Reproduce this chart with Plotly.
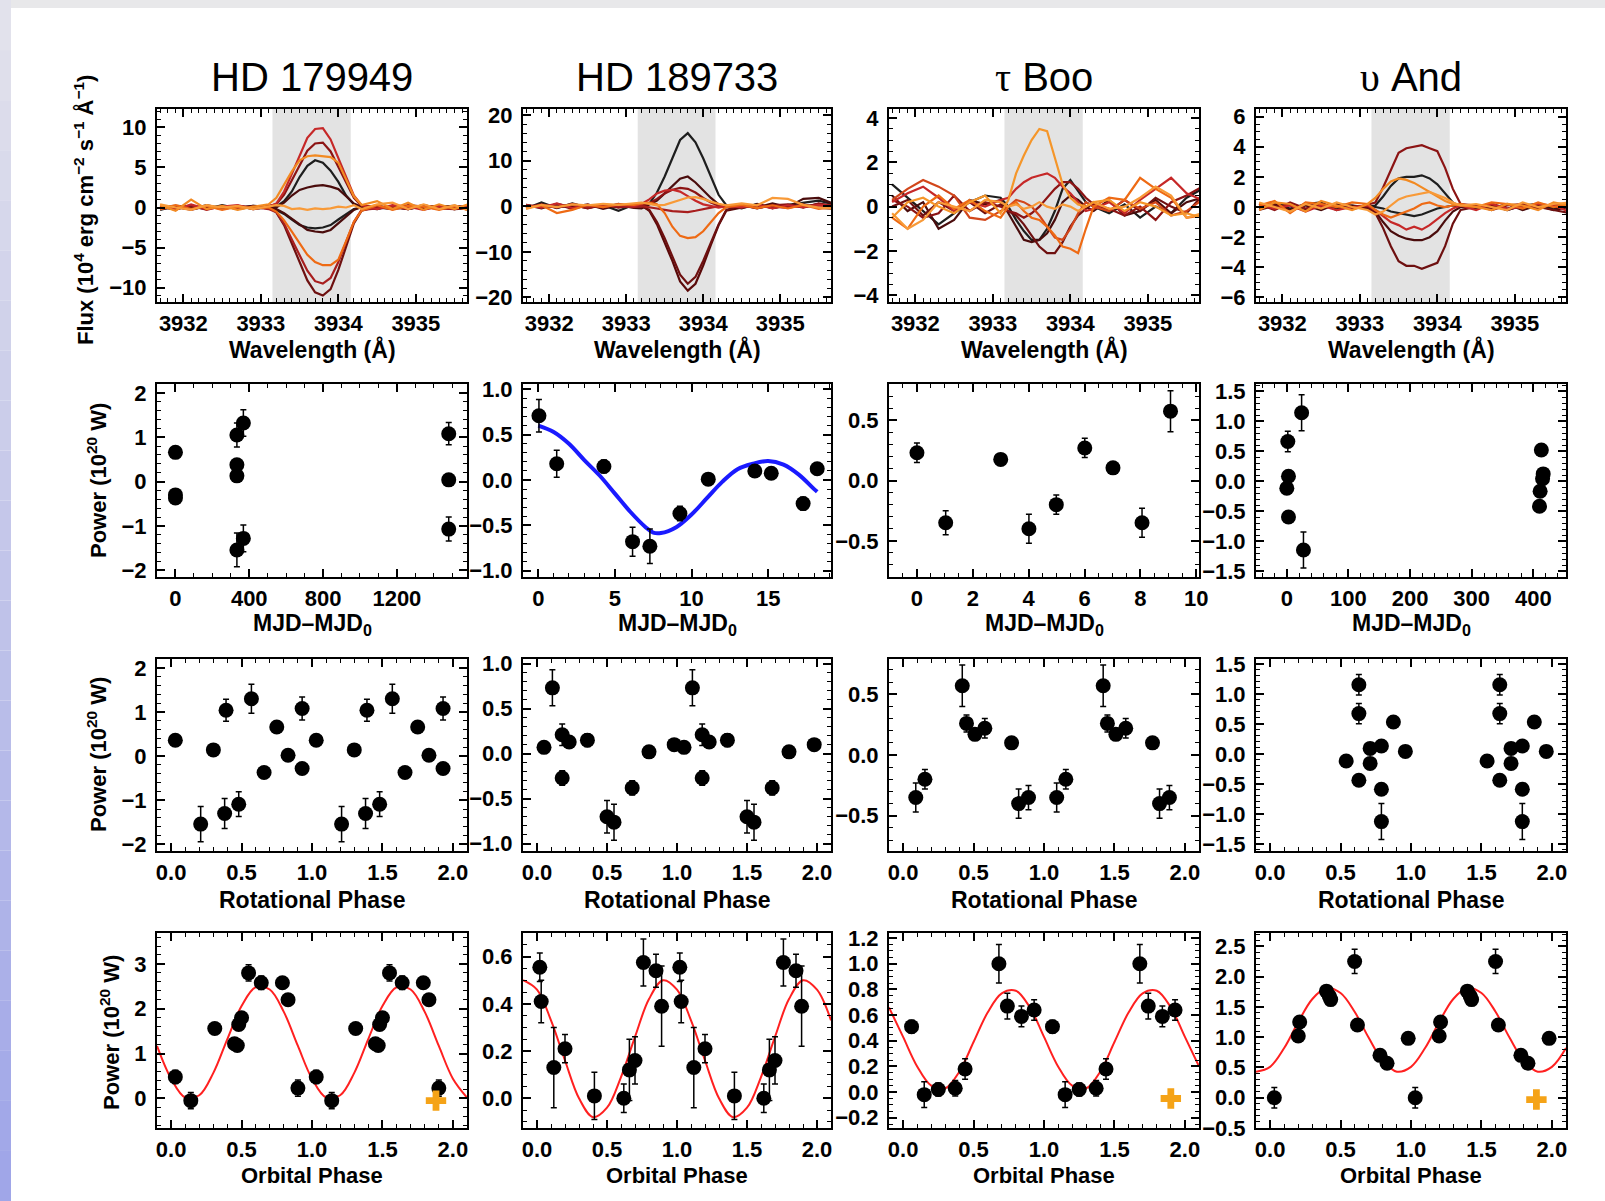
import plotly.graph_objects as go
from plotly.subplots import make_subplots

# ---------------- DATA ----------------
titles = ["HD 179949", "HD 189733",
          "<span style=\"font-family:'Liberation Serif'\">τ</span> Boo",
          "<span style=\"font-family:'Liberation Serif'\">υ</span> And"]

# wavelength sampling (Angstrom) for the residual Ca II K spectra
wl = [3931.7, 3931.9, 3932.1, 3932.3, 3932.5, 3932.7, 3932.9, 3933.1,
      3933.2, 3933.3, 3933.4, 3933.5, 3933.6, 3933.7, 3933.8, 3933.9,
      3934.0, 3934.1, 3934.2, 3934.3,
      3934.5, 3934.7, 3934.9, 3935.1, 3935.3, 3935.5, 3935.7]
band = [3933.15, 3934.16]

# HD 179949 residual flux profiles
hd179_black_up = [-0.3,0.2,0.1,-0.2,0.3,-0.1,0.2,0.0, 0.1,0.8,2.0,3.8,5.2,5.9,5.6,4.6,3.2,1.5,0.4,0.0, -0.2,0.2,-0.1,0.3,-0.2,0.1,-0.3]
hd179_black_dn = [0.0,-0.2,0.2,-0.1,0.2,-0.2,0.1,-0.1, -0.3,-0.8,-1.5,-2.2,-2.5,-2.6,-2.5,-2.2,-1.5,-0.8,-0.2,0.0, -0.1,0.1,-0.2,0.2,0.0,-0.2,0.1]
hd179_brown_up = [0.1,0.2,-0.2,0.3,-0.1,0.0,0.2,0.1, 0.0,0.6,1.5,2.2,2.5,2.7,2.8,2.6,2.3,1.4,0.5,0.1, 0.2,-0.1,0.2,-0.2,0.1,0.2,-0.1]
hd179_brown_dn = [0.2,0.0,-0.2,0.1,-0.1,0.2,-0.2,0.0, -0.2,-0.7,-1.4,-2.2,-2.8,-3.0,-3.1,-2.8,-2.0,-1.1,-0.3,0.1, 0.0,-0.2,0.1,0.0,0.2,-0.1,0.2]
hd179_dred_dn = [-0.1,0.1,0.0,0.2,-0.2,0.2,-0.1,0.1, -0.6,-2.2,-4.5,-6.9,-9.1,-10.6,-11.0,-10.2,-7.8,-4.9,-2.0,-0.4, 0.1,0.0,-0.2,0.2,0.1,-0.2,-0.1]
hd179_dred_up = [-0.2,0.1,-0.3,0.2,-0.1,0.2,0.0,0.2, 0.4,1.6,3.4,5.3,7.1,8.0,8.1,7.0,5.1,3.1,1.2,0.2, 0.1,-0.2,0.3,0.1,-0.2,0.2,0.0]
hd179_red_dn = [0.1,-0.2,0.3,-0.3,0.2,-0.1,0.1,-0.2, -0.6,-2.0,-4.0,-6.0,-7.9,-9.2,-9.5,-8.8,-6.8,-4.3,-1.8,-0.3, -0.1,0.2,-0.2,0.3,-0.1,-0.2,0.2]
hd179_red_up = [0.2,-0.3,0.4,-0.2,0.1,0.3,-0.2,0.1, 0.5,2.0,4.2,6.5,8.7,9.8,9.9,8.5,6.2,3.8,1.5,0.3, -0.2,0.3,0.1,-0.3,0.2,-0.1,0.3]
hd179_orng_dn = [-0.2,0.3,-0.2,0.2,-0.3,0.1,-0.1,0.0, -0.5,-1.6,-3.0,-4.5,-5.9,-6.8,-7.2,-7.2,-6.5,-4.2,-1.8,-0.4, 0.3,-0.3,0.2,0.1,-0.3,0.2,-0.4]
hd179_orng_up = [0.3,-0.4,1.0,-0.2,0.2,-0.3,0.1,0.4, 1.2,2.8,4.5,5.9,6.4,6.5,6.4,6.3,5.6,3.5,1.4,0.3, 0.8,-0.2,0.6,-0.3,0.4,-0.2,0.5]
hd179_lorng = [0.4,0.0,-0.3,0.3,0.0,0.2,-0.2,0.1, 0.3,0.2,-0.2,-0.1,-0.3,-0.1,-0.2,-0.1,0.1,0.0,0.3,-0.2, 0.4,0.6,-0.2,0.4,-0.2,0.3,-0.4]

# HD 189733 residual flux profiles
hd189_black_up = [-0.5,0.8,-0.4,0.6,-0.3,0.2,-1.0,0.3, 0.0,0.5,3.0,6.5,10.5,14.5,16.0,14.0,10.5,6.5,2.5,0.2, -0.5,0.5,-0.4,0.3,0.8,1.2,0.4]
hd189_brown_up = [0.3,-0.5,0.5,-0.2,0.4,-0.6,0.2,-0.4, -0.5,0.3,1.2,2.8,4.5,6.0,6.5,5.2,3.5,1.8,0.4,-0.2, 0.3,-0.3,0.6,-0.2,1.6,1.8,0.5]
hd189_dred_dn2 = [-0.4,0.2,-0.3,0.3,-0.4,0.2,-0.2,0.4, 0.2,-1.0,-4.0,-7.8,-12.0,-16.5,-18.5,-17.0,-13.0,-8.5,-4.2,-1.0, -0.3,0.4,-0.4,0.2,-0.2,0.5,0.2]
hd189_dred_dn = [0.3,-0.2,0.4,-0.6,0.2,-0.3,0.5,-0.2, 0.0,-0.8,-3.5,-7.0,-11.0,-15.0,-17.0,-15.5,-12.0,-8.0,-4.0,-0.8, 0.2,-0.5,0.3,-0.2,0.4,-0.3,-0.6]
hd189_maroon_up = [-0.3,0.4,-0.2,0.3,-0.5,0.4,-0.3,0.2, 0.1,0.6,1.6,2.8,3.6,4.0,3.8,3.0,1.8,0.8,0.1,-0.2, 0.2,-0.4,0.2,0.4,-0.3,0.6,-0.2]
hd189_red_dn = [-0.2,0.3,-0.3,0.5,-0.2,0.3,0.0,-0.2, 0.0,-0.2,-0.5,-0.8,-1.1,-1.2,-1.3,-1.0,-0.6,-0.3,0.0,0.2, -0.3,0.2,-0.1,-0.4,0.3,-0.3,0.0]
hd189_red_up = [0.2,-0.3,0.6,-0.4,0.3,-0.2,0.4,0.0, 0.5,1.5,2.8,3.4,3.6,3.2,2.2,1.2,0.4,0.0,-0.3,0.0, -0.2,0.3,-0.5,0.2,-0.2,0.3,0.1]
hd189_orng_dn = [-0.3,0.2,-1.5,-0.8,0.3,-0.2,0.4,0.3, 0.6,0.8,0.4,-1.5,-4.5,-6.5,-7.0,-6.8,-5.5,-3.5,-1.5,-0.2, 0.3,-0.4,0.2,-0.5,0.3,-0.6,-0.2]
hd189_lorng = [-0.6,0.3,-0.2,0.4,0.2,0.5,0.3,0.6, 0.8,0.5,0.2,0.3,0.8,1.4,1.9,2.0,1.6,1.0,0.5,0.2, 0.6,0.2,1.8,1.6,0.3,-0.3,-0.5]

# tau Boo residual flux profiles
tau_black = [1.0,0.4,-0.2,-0.8,-0.3,0.2,0.5,0.4, 0.0,-0.6,-1.1,-1.5,-1.5,-1.0,-0.2,0.8,1.2,0.7,0.2,0.0, -0.3,0.1,-0.5,0.0,-0.3,0.4,0.8]
tau_brown = [0.5,-0.2,0.2,-1.0,-0.6,0.3,0.1,0.3, -0.3,-0.9,-1.5,-1.6,-1.5,-1.2,-0.6,0.2,0.5,0.3,0.0,-0.2, 0.3,-0.4,-0.2,0.3,-0.3,0.2,0.4]
tau_dred = [0.0,0.3,-0.4,0.2,-0.2,0.2,-0.3,0.1, -0.2,-0.4,-0.8,-1.3,-1.8,-2.1,-2.1,-1.6,-0.9,-0.4,-0.1,0.2, -0.2,0.3,-0.2,0.4,0.0,-0.3,0.5]
tau_maroon = [0.3,0.0,-0.5,-0.3,0.5,-0.2,0.2,0.0, -0.2,-0.3,-0.5,-0.3,0.0,0.4,0.8,1.1,1.1,0.8,0.4,0.1, -0.1,-0.4,0.0,-0.6,0.2,0.5,0.9]
tau_red = [0.2,0.6,0.9,0.4,-0.2,0.2,0.0,0.3, 0.4,0.8,1.1,1.3,1.4,1.5,1.3,0.9,0.6,0.2,-0.2,-0.1, 0.2,-0.3,0.3,0.8,1.3,0.6,0.3]
tau_redorng = [0.3,0.8,1.2,0.9,0.5,-0.5,-0.6,-0.2, 0.0,0.3,0.2,0.0,-0.4,-0.9,-1.4,-1.5,-1.0,-0.3,0.2,0.0, -0.2,0.3,-0.1,0.2,-0.4,-0.2,0.3]
tau_orng = [-0.5,-1.0,0.0,0.5,-0.1,0.3,-0.2,-0.5, 0.0,0.2,-0.2,-0.5,-0.6,-0.9,-1.3,-1.8,-1.9,-2.1,-1.0,0.0, 0.4,0.3,1.3,0.8,0.4,-0.5,-0.4]
tau_lorng2 = [-0.3,-1.0,-0.6,0.2,0.0,-0.2,0.3,0.2, 0.0,0.1,-0.1,0.0,0.2,0.0,-0.1,0.1,0.0,-0.2,0.0,0.2, -0.1,0.0,0.4,0.9,0.5,-0.5,-0.3]
tau_lorng = [-0.5,0.2,0.4,0.0,-0.3,0.2,0.5,-0.3, 0.3,1.5,2.3,3.0,3.5,3.4,2.2,1.0,0.4,0.1,0.0,0.2, 0.3,-0.2,0.2,0.0,-0.4,-0.3,-0.5]

# upsilon And residual flux profiles
ups_black_dn = [0.0,0.2,0.1,-0.2,0.2,-0.1,0.0,0.1, 0.0,-0.1,-0.3,-0.4,-0.5,-0.6,-0.5,-0.3,-0.1,0.0,0.1,0.0, 0.0,0.2,-0.1,0.1,-0.1,0.2,0.0]
ups_black_up = [0.1,0.2,-0.1,0.2,0.3,-0.2,0.1,0.0, 0.1,0.7,1.4,1.9,2.0,2.0,2.1,1.9,1.5,0.9,0.3,0.0, -0.1,0.2,-0.2,0.1,0.2,-0.1,0.1]
ups_brown_dn = [-0.1,0.2,-0.2,0.1,-0.2,0.2,0.1,-0.1, -0.3,-1.0,-1.6,-1.9,-2.1,-2.2,-2.2,-2.0,-1.6,-0.9,-0.3,0.0, 0.1,-0.1,0.2,-0.2,0.1,-0.2,0.0]
ups_dred_dn = [-0.2,0.1,-0.3,0.2,0.0,0.1,-0.1,0.0, -0.4,-1.4,-2.6,-3.6,-3.9,-3.9,-4.1,-3.9,-3.7,-2.6,-1.1,-0.2, 0.0,0.1,-0.2,0.1,0.0,-0.2,-0.4]
ups_dred_up = [0.2,-0.2,0.3,-0.1,0.2,0.0,-0.1,0.2, 0.3,1.3,2.5,3.6,3.9,4.0,4.1,3.9,3.7,2.6,1.2,0.2, 0.1,-0.2,0.1,0.2,-0.1,0.2,0.0]
ups_red_dn = [0.2,-0.1,0.1,-0.3,0.1,-0.2,0.0,0.1, -0.2,-0.6,-1.0,-1.2,-1.5,-1.3,-1.5,-1.2,-0.8,-0.4,-0.1,0.1, -0.2,0.2,-0.1,0.0,0.2,0.1,-0.3]
ups_orng_dn = [0.1,0.4,-0.4,0.3,0.2,0.0,0.3,0.2, -0.2,-0.5,-0.7,-0.5,-0.3,-0.1,0.2,0.3,0.1,0.0,0.1,0.2, 0.0,0.3,0.2,-0.1,0.3,0.0,0.2]
ups_orng_up = [-0.2,0.3,0.2,-0.3,0.4,0.1,-0.2,0.2, 0.6,1.2,1.7,1.9,1.8,1.6,1.3,1.0,0.7,0.4,0.2,0.1, 0.0,-0.2,0.2,0.1,-0.2,0.3,0.1]
ups_lorng = [0.3,0.0,-0.3,0.2,-0.1,0.3,0.0,-0.2, -0.5,-0.3,0.1,0.5,0.7,0.8,0.9,1.0,0.8,0.6,0.3,0.1, 0.2,0.0,-0.2,0.3,0.0,0.2,0.3]

# Power vs MJD - MJD0 (10^20 W)
mjd_179 = [0, 0, 0, 333, 368, 333, 333, 368, 333, 1481, 1481, 1481]
pw_179 = [0.66, -0.30, -0.37, 1.05, 1.32, 0.38, 0.13, -1.28, -1.54, 1.08, 0.04, -1.07]
er_179 = [0.08, 0.08, 0.08, 0.27, 0.30, 0.10, 0.10, 0.30, 0.38, 0.25, 0.08, 0.27]
mjd_189 = [0.04, 1.2, 4.28, 6.15, 7.28, 9.24, 11.09, 14.13, 15.2, 17.28, 18.2]
pw_189 = [0.71, 0.18, 0.15, -0.68, -0.73, -0.37, 0.01, 0.10, 0.075, -0.26, 0.125]
er_189 = [0.18, 0.15, 0.07, 0.16, 0.19, 0.08, 0.05, 0.05, 0.05, 0.07, 0.05]
mjd_tau = [0, 1.03, 3.0, 4.01, 4.99, 6.01, 7.02, 8.06, 9.08]
pw_tau = [0.23, -0.35, 0.175, -0.40, -0.20, 0.27, 0.105, -0.35, 0.575]
er_tau = [0.08, 0.10, 0.04, 0.12, 0.08, 0.08, 0.04, 0.12, 0.17]
mjd_ups = [1.6, 2.7, 0, 2.7, 24, 27, 413, 416, 415, 411, 410]
pw_ups = [0.66, 0.08, -0.12, -0.60, 1.14, -1.15, 0.52, 0.12, 0.04, -0.17, -0.42]
er_ups = [0.17, 0.05, 0.05, 0.05, 0.30, 0.30, 0.05, 0.05, 0.05, 0.05, 0.05]

# blue sinusoid fit for HD 189733
fit189_t = [0, 1, 2, 3, 4, 5, 6, 7, 7.5, 8, 9, 10, 11, 12, 13, 14, 15, 16, 17, 18, 18.2]
fit189_p = [0.60, 0.53, 0.40, 0.22, 0.05, -0.15, -0.35, -0.52, -0.58, -0.585, -0.52, -0.38, -0.20, -0.02, 0.12, 0.18, 0.21, 0.17, 0.06, -0.10, -0.13]

# Power vs rotational phase (one cycle; plotted twice)
rph_179 = [0.03, 0.21, 0.30, 0.39, 0.38, 0.48, 0.57, 0.66, 0.75, 0.83, 0.93, 0.93]
rpw_179 = [0.36, -1.54, 0.14, 1.04, -1.30, -1.09, 1.30, -0.37, 0.66, 0.02, 1.08, -0.28]
rer_179 = [0.08, 0.40, 0.08, 0.25, 0.34, 0.28, 0.33, 0.08, 0.08, 0.08, 0.26, 0.08]
rph_189 = [0.05, 0.11, 0.18, 0.18, 0.23, 0.36, 0.50, 0.55, 0.68, 0.80, 0.98]
rpw_189 = [0.07, 0.73, -0.27, 0.21, 0.13, 0.15, -0.70, -0.76, -0.38, 0.02, 0.10]
rer_189 = [0.05, 0.20, 0.08, 0.12, 0.05, 0.07, 0.18, 0.20, 0.08, 0.05, 0.05]
rph_tau = [0.09, 0.155, 0.42, 0.45, 0.51, 0.58, 0.77, 0.82, 0.89]
rpw_tau = [-0.35, -0.20, 0.57, 0.26, 0.17, 0.22, 0.10, -0.40, -0.35]
rer_tau = [0.12, 0.08, 0.17, 0.07, 0.04, 0.08, 0.04, 0.12, 0.10]
rph_ups = [0.54, 0.63, 0.63, 0.63, 0.71, 0.71, 0.79, 0.79, 0.79, 0.875, 0.96]
rpw_ups = [-0.12, 1.15, 0.67, -0.44, 0.09, -0.16, 0.13, -0.59, -1.13, 0.53, 0.04]
rer_ups = [0.05, 0.17, 0.17, 0.05, 0.05, 0.05, 0.05, 0.05, 0.30, 0.05, 0.05]

# Power vs orbital phase (one cycle; plotted twice)
oph_179 = [0.03, 0.14, 0.31, 0.45, 0.47, 0.48, 0.50, 0.55, 0.64, 0.79, 0.83, 0.90]
opw_179 = [0.48, -0.05, 1.56, 1.22, 1.18, 1.65, 1.80, 2.80, 2.58, 2.58, 2.20, 0.23]
oer_179 = [0.15, 0.18, 0.08, 0.10, 0.10, 0.12, 0.12, 0.18, 0.15, 0.12, 0.12, 0.18]
oph_189 = [0.02, 0.03, 0.12, 0.20, 0.41, 0.62, 0.66, 0.70, 0.76, 0.85, 0.89]
opw_189 = [0.555, 0.41, 0.13, 0.21, 0.01, 0.0, 0.12, 0.16, 0.575, 0.54, 0.39]
oer_189 = [0.06, 0.09, 0.17, 0.06, 0.10, 0.06, 0.13, 0.10, 0.10, 0.07, 0.17]
oph_tau = [0.06, 0.15, 0.25, 0.37, 0.44, 0.68, 0.74, 0.84, 0.93]
opw_tau = [0.51, -0.02, 0.02, 0.03, 0.18, 1.0, 0.67, 0.59, 0.64]
oer_tau = [0.05, 0.10, 0.05, 0.06, 0.08, 0.15, 0.10, 0.08, 0.08]
oph_ups = [0.03, 0.20, 0.21, 0.40, 0.42, 0.43, 0.60, 0.62, 0.78, 0.83, 0.98]
opw_ups = [0.0, 1.02, 1.25, 1.76, 1.68, 1.62, 2.25, 1.20, 0.70, 0.57, 0.98]
oer_ups = [0.17, 0.08, 0.08, 0.08, 0.08, 0.08, 0.20, 0.08, 0.08, 0.08, 0.08]

# red sinusoid fits vs orbital phase
fit_ph = [-0.1, 0.0, 0.1, 0.2, 0.3, 0.4, 0.5, 0.6, 0.7, 0.8, 0.9, 1.0,
          1.1, 1.2, 1.3, 1.4, 1.5, 1.6, 1.7, 1.8, 1.9, 2.0, 2.1]
fit_179 = [1.17, 0.44, 0.02, 0.07, 0.57, 1.33, 2.06, 2.48, 2.43, 1.93, 1.17, 0.44,
           0.02, 0.07, 0.57, 1.33, 2.06, 2.48, 2.43, 1.93, 1.17, 0.44, 0.02]
fit_189 = [0.50, 0.46, 0.33, 0.16, 0.00, -0.08, -0.04, 0.09, 0.26, 0.42, 0.50, 0.46,
           0.33, 0.16, 0.00, -0.08, -0.04, 0.09, 0.26, 0.42, 0.50, 0.46, 0.33]
fit_tau = [0.66, 0.43, 0.20, 0.05, 0.03, 0.16, 0.39, 0.62, 0.77, 0.79, 0.66, 0.43,
           0.20, 0.05, 0.03, 0.16, 0.39, 0.62, 0.77, 0.79, 0.66, 0.43, 0.20]
fit_ups = [0.43, 0.51, 0.82, 1.25, 1.63, 1.81, 1.73, 1.42, 0.99, 0.61, 0.43, 0.51,
           0.82, 1.25, 1.63, 1.81, 1.73, 1.42, 0.99, 0.61, 0.43, 0.51, 0.82]

# orange "+" markers (planet symbol)
plus_ph = [1.88, None, 1.90, 1.89]
plus_pw = [-0.05, None, -0.05, -0.03]

# ---------------- STYLE ----------------
BLACK, BROWN, DRED, MAROON = "#1e1e1e", "#4a0c0c", "#6e1010", "#8c1414"
RED, RED2, REDOR, ORNG, LORNG = "#c62828", "#a81e1e", "#d2461a", "#ee6a14", "#f89a38"

spectra = [
    [(hd179_black_up, BLACK), (hd179_black_dn, BLACK), (hd179_brown_up, BROWN),
     (hd179_brown_dn, BROWN), (hd179_dred_dn, DRED), (hd179_dred_up, MAROON),
     (hd179_red_dn, RED2), (hd179_red_up, RED), (hd179_orng_dn, ORNG),
     (hd179_orng_up, "#f28a22"), (hd179_lorng, LORNG)],
    [(hd189_black_up, BLACK), (hd189_brown_up, BROWN), (hd189_dred_dn2, "#5a0a0a"),
     (hd189_dred_dn, DRED), (hd189_maroon_up, MAROON), (hd189_red_dn, RED2),
     (hd189_red_up, RED), (hd189_orng_dn, ORNG), (hd189_lorng, LORNG)],
    [(tau_black, BLACK), (tau_brown, BROWN), (tau_dred, DRED), (tau_maroon, MAROON),
     (tau_red, RED), (tau_redorng, REDOR), (tau_orng, ORNG), (tau_lorng2, LORNG),
     (tau_lorng, "#f5962a")],
    [(ups_black_dn, BLACK), (ups_black_up, BLACK), (ups_brown_dn, BROWN),
     (ups_dred_dn, DRED), (ups_dred_up, MAROON), (ups_red_dn, RED),
     (ups_orng_dn, ORNG), (ups_orng_up, "#f28a22"), (ups_lorng, LORNG)],
]

W, H = 1605, 1201
xpix = [(157, 467), (523, 831), (889, 1199), (1256, 1566)]
ypix = [(109, 302), (384, 577), (659, 851), (933, 1128)]

FONT = "Liberation Sans"
tickfont = dict(family=FONT, size=22, color="black", weight="bold")

fig = make_subplots(rows=4, cols=4)

def axis_style(major, minor, rng, fmt=None):
    d = dict(range=rng, dtick=major, tick0=0, showline=True, linecolor="black",
             linewidth=2, mirror="allticks", ticks="inside", ticklen=8,
             tickwidth=1.6, tickcolor="black", showgrid=False, zeroline=False,
             tickfont=tickfont, automargin=False,
             minor=dict(ticks="inside", ticklen=4, dtick=minor, tickcolor="black",
                        tickwidth=1.2, showgrid=False))
    if fmt:
        d["tickformat"] = fmt
    return d

# axis settings per panel
xcfg = {
    1: [(1, 0.1, [3931.66, 3935.66], None)] * 4,
    2: [(400, 100, [-100, 1580], None), (5, 1, [-1, 19.1], None),
        (2, 0.5, [-1, 10.1], None), (100, 20, [-50, 453], None)],
    3: [(0.5, 0.1, [-0.1, 2.1], ".1f")] * 4,
    4: [(0.5, 0.1, [-0.1, 2.1], ".1f")] * 4,
}
ycfg = {
    1: [(5, 1, [-11.8, 12.3], None), (10, 2, [-21, 21.3], None),
        (2, 0.5, [-4.3, 4.4], None), (2, 0.5, [-6.3, 6.5], None)],
    2: [(1, 0.2, [-2.15, 2.2], None), (0.5, 0.1, [-1.07, 1.06], ".1f"),
        (0.5, 0.1, [-0.8, 0.8], ".1f"), (0.5, 0.1, [-1.6, 1.62], ".1f")],
    3: [(1, 0.2, [-2.15, 2.2], None), (0.5, 0.1, [-1.08, 1.05], ".1f"),
        (0.5, 0.1, [-0.79, 0.79], ".1f"), (0.5, 0.1, [-1.62, 1.58], ".1f")],
    4: [(1, 0.2, [-0.66, 3.69], None), (0.2, 0.05, [-0.126, 0.70], ".1f"),
        (0.2, 0.05, [-0.28, 1.24], ".1f"), (0.5, 0.1, [-0.5, 2.72], ".1f")],
}

for r in range(1, 5):
    for c in range(1, 5):
        xd = [xpix[c-1][0] / W, xpix[c-1][1] / W]
        yd = [1 - ypix[r-1][1] / H, 1 - ypix[r-1][0] / H]
        mj, mn, rg, fm = xcfg[r][c-1]
        xs = axis_style(mj, mn, rg, fm)
        xs.update(domain=xd, ticklabelstandoff=1)
        fig.update_xaxes(row=r, col=c, **xs)
        mj, mn, rg, fm = ycfg[r][c-1]
        ys = axis_style(mj, mn, rg, fm)
        ys.update(domain=yd, ticklabelstandoff=4)
        fig.update_yaxes(row=r, col=c, **ys)

# Row 1: spectra
for c in range(4):
    n = c + 1
    xr = "x" if n == 1 else f"x{n}"
    yr = "y domain" if n == 1 else f"y{n} domain"
    fig.add_shape(type="rect", x0=band[0], x1=band[1], y0=0, y1=1, xref=xr, yref=yr,
                  fillcolor="#e3e3e3", line_width=0, layer="below")
    for vals, col in spectra[c]:
        fig.add_trace(go.Scatter(x=wl, y=vals, mode="lines",
                                 line=dict(color=col, width=2.2)), row=1, col=c+1)

def pts(x, y, e, r, c):
    fig.add_trace(go.Scatter(x=x, y=y, mode="markers",
                             marker=dict(color="black", size=15),
                             error_y=dict(type="data", array=e, color="black",
                                          thickness=1.5, width=3)),
                  row=r, col=c)

def two(v):
    return v + [p + 1 for p in v]

mjd_sets = [(mjd_179, pw_179, er_179), (mjd_189, pw_189, er_189),
            (mjd_tau, pw_tau, er_tau), (mjd_ups, pw_ups, er_ups)]
rot_sets = [(rph_179, rpw_179, rer_179), (rph_189, rpw_189, rer_189),
            (rph_tau, rpw_tau, rer_tau), (rph_ups, rpw_ups, rer_ups)]
orb_sets = [(oph_179, opw_179, oer_179), (oph_189, opw_189, oer_189),
            (oph_tau, opw_tau, oer_tau), (oph_ups, opw_ups, oer_ups)]
fits = [fit_179, fit_189, fit_tau, fit_ups]

fig.add_trace(go.Scatter(x=fit189_t, y=fit189_p, mode="lines", line_shape="spline",
                         line=dict(color="#1a1aff", width=4)), row=2, col=2)

for c in range(4):
    x, y, e = mjd_sets[c]
    pts(x, y, e, 2, c+1)
    x, y, e = rot_sets[c]
    pts(two(x), y + y, e + e, 3, c+1)
    fig.add_trace(go.Scatter(x=fit_ph, y=fits[c], mode="lines", line_shape="spline",
                             line=dict(color="#ff2020", width=2)), row=4, col=c+1)
    x, y, e = orb_sets[c]
    pts(two(x), y + y, e + e, 4, c+1)
    if plus_ph[c] is not None:
        fig.add_trace(go.Scatter(x=[plus_ph[c]], y=[plus_pw[c]], mode="markers",
                                 marker=dict(symbol="cross", size=17, color="#f5a317",
                                             line=dict(width=0))), row=4, col=c+1)

# ---------------- TEXT ----------------
ann = []
centers = [(a + b) / 2 / W for a, b in xpix]
for c in range(4):
    ann.append(dict(text=titles[c], x=centers[c], y=1 - 77 / H, xref="paper", yref="paper",
                    showarrow=False, font=dict(family=FONT, size=40, color="black"),
                    xanchor="center", yanchor="middle"))
    for ytxt, txt, fs in [(349, "Wavelength (Å)", 23), (624, "MJD–MJD<sub>0</sub>", 23),
                          (900, "Rotational Phase", 23), (1175, "Orbital Phase", 22)]:
        ann.append(dict(text=txt, x=centers[c], y=1 - ytxt / H, xref="paper", yref="paper",
                        showarrow=False, xanchor="center", yanchor="middle",
                        font=dict(family=FONT, size=fs, color="black", weight="bold")))
for xp, yp, txt in [(84, 210, "Flux (10<sup>4</sup> erg cm<sup>−2</sup> s<sup>−1</sup> Å<sup>−1</sup>)"),
                    (97, 481, "Power (10<sup>20</sup> W)"),
                    (97, 755, "Power (10<sup>20</sup> W)"),
                    (110, 1032, "Power (10<sup>20</sup> W)")]:
    ann.append(dict(text=txt, x=xp / W, y=1 - yp / H, xref="paper", yref="paper",
                    showarrow=False, textangle=-90, xanchor="center", yanchor="middle",
                    font=dict(family=FONT, size=22, color="black", weight="bold")))

# page frame (grey top strip, bluish left strip)
shapes = [dict(type="rect", xref="paper", yref="paper", x0=0, x1=1, y0=1 - 8 / H, y1=1,
               fillcolor="#e8e8ea", line_width=0, layer="below")]
nseg = 24
top_c, bot_c = (226, 226, 236), (160, 166, 232)
for i in range(nseg):
    f = i / (nseg - 1)
    col = tuple(int(top_c[k] + (bot_c[k] - top_c[k]) * f) for k in range(3))
    shapes.append(dict(type="rect", xref="paper", yref="paper", x0=0, x1=11 / W,
                       y0=1 - (i + 1) / nseg, y1=1 - i / nseg,
                       fillcolor="rgb(%d,%d,%d)" % col, line_width=0, layer="below"))

fig.update_layout(width=W, height=H, margin=dict(l=0, r=0, t=0, b=0, autoexpand=False),
                  paper_bgcolor="white", plot_bgcolor="white", showlegend=False,
                  annotations=ann, shapes=list(fig.layout.shapes) + shapes)

fig.write_html("out.html", config={"responsive": False},
               post_script="document.body.style.margin='0';document.body.style.padding='0';"
                           "document.documentElement.style.overflow='hidden';")
